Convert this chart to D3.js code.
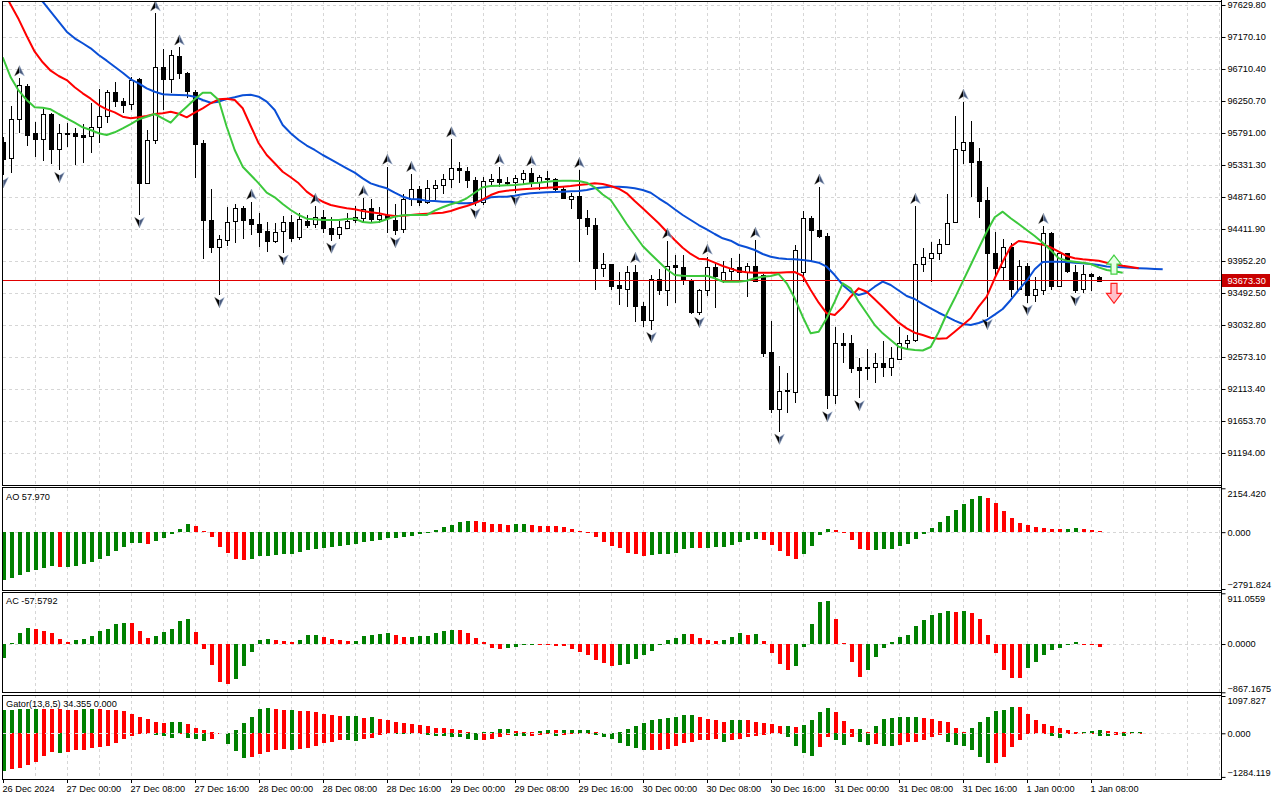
<!DOCTYPE html>
<html><head><meta charset="utf-8">
<script src="https://cdn.jsdelivr.net/npm/d3@7"></script>
<style>
html,body{margin:0;padding:0;background:#fff;overflow:hidden;}
svg{display:block;}
</style></head><body>
<script>
// ---------------- DATA (BTCUSD H1, 26 Dec 2024 16:00 .. 1 Jan 2025 09:00) ----------------
const dateLabels = ["26 Dec 2024","27 Dec 00:00","27 Dec 08:00","27 Dec 16:00","28 Dec 00:00","28 Dec 08:00","28 Dec 16:00","29 Dec 00:00","29 Dec 08:00","29 Dec 16:00","30 Dec 00:00","30 Dec 08:00","30 Dec 16:00","31 Dec 00:00","31 Dec 08:00","31 Dec 16:00","1 Jan 00:00","1 Jan 08:00"];
const dateBars = [0,8,16,24,32,40,48,56,64,72,80,88,96,104,112,120,128,136];
const priceTicks = [97629.80,97170.10,96710.40,96250.70,95791.00,95331.30,94871.60,94411.90,93952.20,93492.50,93032.80,92573.10,92113.40,91653.70,91194.00];
const priceRange = [90734.3, 97701.6];
const aoRange = [-2791.824, 2154.420];
const acRange = [-867.1675, 911.0559];
const gatorRange = [-1284.119, 1097.827];
const currentPrice = 93673.30;

const openP = [95666,95428,95988,96466,95787,95701,96064,95557,95791,95787,95762,95758,95881,96025,96376,96251,96203,96567,95077,95680,96735,96562,96897,96649,96384,95643,94541,94149,94264,94517,94709,94551,94484,94387,94244,94373,94517,94293,94531,94484,94580,94422,94336,94436,94531,94580,94709,94551,94613,94541,94408,94839,94982,94790,94997,95040,95126,95284,95249,95116,94804,95106,95126,95087,95087,95140,95221,95087,95140,95126,94982,94847,94886,94566,94469,93847,93905,93608,93546,93790,93306,93095,93689,93536,93895,93862,93679,93224,93536,93862,93679,93799,93862,93799,93885,93751,92649,91836,92095,92075,93784,94566,94398,94311,92027,92779,92770,92434,92425,92425,92483,92425,92555,92779,92817,93909,94005,94071,94196,94502,95557,95666,95393,94829,94071,93862,94149,93546,93880,93464,93546,94359,93593,94063,93799,93546,93765,93727];
const highP = [95734,96179,96577,96490,95953,96131,96083,95920,95939,95859,95920,96218,96419,96409,96528,96290,96600,96581,95834,97511,96993,96990,97020,96667,96409,95690,94982,94326,94732,94771,94742,94804,94638,94517,94502,94599,94613,94638,94613,94742,94685,94580,94531,94646,94742,94853,94839,94724,95307,94771,94915,95202,95030,95116,95116,95202,95700,95379,95307,95163,95163,95202,95307,95163,95188,95260,95284,95188,95249,95140,95020,94925,95260,94685,94566,94063,93909,93799,93880,93895,93368,93751,93833,94244,94038,94038,93690,93545,94014,93919,93956,93991,94053,93919,94254,93760,93095,92444,92348,94182,94670,94599,95020,94359,93008,92922,92889,92555,92684,92635,92807,92721,93000,92889,94742,94135,94230,94264,94915,96035,96241,95968,95571,95011,94373,94264,94207,93967,93928,93727,94455,94373,94071,94071,93895,93895,93775,93737];
const lowP = [95188,95221,95787,95604,95442,95393,95346,95260,95594,95331,95356,95508,95652,95939,96169,96083,96121,94613,95073,95633,96121,96361,96562,96290,95140,93977,94063,93464,94168,94207,94264,94326,94149,94086,94215,94074,94230,94254,94422,94422,94350,94244,94264,94422,94502,94494,94502,94494,94350,94326,94350,94742,94742,94771,94829,94915,94997,95068,94997,94742,94757,95030,95011,95030,94929,95058,95011,94972,95011,94962,94843,94695,93942,94326,93536,93727,93536,93320,93296,93080,93008,92961,93464,93306,93353,93608,93191,93177,93449,93273,93640,93669,93679,93431,93660,92569,91764,91500,91764,91917,93655,93942,94278,91822,91898,92483,92348,91980,92243,92204,92290,92300,92540,92684,92789,93799,93655,93967,94182,94498,95346,94876,94566,93148,93751,93679,93431,93536,93353,93360,93464,93536,93574,93776,93488,93497,93526,93669];
const closeP = [95428,95988,96481,95762,95701,96064,95557,95787,95781,95738,95738,95881,96035,96376,96241,96193,96552,95068,95690,96735,96562,96912,96649,96384,95643,94541,94149,94264,94517,94709,94541,94484,94373,94244,94373,94508,94293,94551,94479,94580,94416,94336,94436,94531,94580,94704,94551,94613,94566,94398,94839,94982,94790,94997,95040,95126,95284,95249,95116,94804,95106,95135,95087,95083,95140,95221,95077,95155,95126,94982,94847,94886,94566,94455,93847,93909,93593,93560,93790,93296,93105,93689,93536,93885,93862,93679,93224,93536,93862,93727,93799,93847,93784,93885,93669,92635,91836,92089,92085,94110,94566,94387,94311,92027,92779,92746,92411,92396,92405,92483,92425,92555,92779,92817,93909,94005,94071,94196,94502,95557,95666,95379,94818,94071,93862,94149,93546,93880,93464,93546,94359,93593,94063,93799,93546,93765,93737,93673.3];

// Alligator (jaw shifted 8, teeth shifted 5, lips shifted 3)
const jaw = [98276,98147,98018,97903,97788,97677,97533,97390,97246,97151,97080,97008,96911,96830,96743,96657,96562,96505,96433,96384,96347,96341,96337,96333,96313,96265,96226,96241,96279,96304,96333,96341,96313,96241,96121,95906,95787,95690,95611,95547,95475,95413,95346,95284,95221,95140,95068,95030,94997,94933,94876,94843,94839,94818,94814,94804,94804,94781,94781,94790,94829,94867,94876,94876,94890,94910,94925,94933,94939,94943,94948,94953,94958,94972,94997,95008,95020,95020,95011,94997,94972,94933,94853,94781,94695,94613,94541,94469,94407,94340,94278,94244,94182,94149,94110,94053,94014,93991,93981,93976,93967,93952,93928,93870,93751,93608,93511,93464,93497,93583,93655,93608,93528,93449,93406,93335,93273,93209,93152,93095,93047,93033,93062,93105,93181,93263,93392,93536,93669,93833,93938,93942,93942,93938,93928,93919,93909,93894,93873,93866,93862,93856,93849,93843,93837,93833];
const teeth = [97845,97634,97424,97184,96959,96807,96686,96610,96552,96448,96361,96284,96193,96131,96088,96025,96002,96016,96035,96064,96074,96097,96068,96016,96083,96146,96218,96275,96284,96265,96146,95892,95643,95475,95356,95235,95155,95068,94948,94867,94804,94757,94732,94709,94695,94670,94652,94638,94613,94599,94603,94613,94623,94632,94638,94646,94670,94709,94742,94781,94839,94900,94943,94962,94972,94982,94991,94997,95005,95011,95020,95030,95044,95054,95068,95058,95030,94991,94925,94814,94709,94603,94494,94373,94254,94143,94053,93985,93976,93928,93880,93842,93804,93790,93784,93784,93784,93784,93790,93794,93737,93536,93353,93201,93177,93287,93439,93560,93511,93402,93291,93177,93066,92985,92922,92889,92850,92836,92842,92937,93033,93129,93296,93439,93704,93942,94158,94240,94225,94207,94187,94149,94086,94024,93991,93976,93967,93957,93928,93909,93885,93866,93847];
const lips = [96878,96591,96399,96265,96160,96154,96131,96064,96002,95939,95873,95834,95787,95762,95801,95858,95920,95988,96025,96064,96002,95939,96064,96169,96275,96370,96370,96265,95881,95547,95307,95188,95068,94933,94867,94771,94685,94613,94560,94551,94541,94541,94541,94556,94560,94512,94502,94512,94551,94589,94609,94613,94613,94613,94675,94724,94767,94800,94853,94933,95011,95030,95034,95040,95044,95054,95068,95077,95092,95101,95106,95106,95101,95077,95011,94907,94829,94660,94484,94326,94168,94053,93942,93833,93751,93741,93737,93737,93741,93704,93655,93655,93655,93669,93704,93727,93737,93765,93632,93416,93152,92913,92937,93129,93368,93632,93560,93368,93201,93033,92913,92817,92721,92688,92674,92666,92717,92932,93191,93416,93655,93895,94135,94373,94580,94661,94566,94484,94397,94311,94215,94110,93991,93957,93942,93928,93909,93861,93823,93804,93784];

const fractalUp = [2,19,22,31,39,45,48,51,56,62,66,72,79,83,88,94,102,114,120,130];
const fractalDown = [0,7,17,27,35,41,49,59,64,81,87,97,103,107,123,128,134];
const signalBars = [139, 139];
const signalPrices = [94038, 93632];
const signalDirs = ["up", "down"];

const ao = [-2347,-2234,-2101,-1939,-1856,-1773,-1660,-1694,-1690,-1645,-1561,-1448,-1316,-1169,-908,-712,-545,-540,-560,-417,-270,-103,142,403,304,59,-250,-712,-1036,-1316,-1365,-1316,-1169,-1160,-1119,-1085,-1070,-972,-874,-825,-761,-712,-680,-640,-560,-470,-430,-380,-300,-270,-221,-172,-74,10,108,270,353,516,565,550,501,388,380,370,380,390,360,320,310,290,255,172,74,10,-221,-466,-663,-793,-1006,-1056,-1154,-1120,-1085,-1056,-1006,-840,-790,-800,-761,-750,-712,-628,-466,-398,-334,-400,-628,-923,-1169,-1316,-1070,-678,-137,157,108,-54,-383,-825,-874,-860,-825,-820,-678,-579,-334,-74,221,516,795,1090,1385,1630,1777,1694,1449,1041,712,466,353,270,221,172,142,150,206,172,123,57.970];
const ac = [-257,12,192,293,270,234,198,90,36,78,90,150,234,270,359,377,370,234,114,150,216,270,413,449,216,-84,-377,-677,-719,-629,-389,-138,72,90,72,54,36,72,162,165,132,90,72,54,60,144,162,180,192,162,126,130,144,150,204,240,252,248,204,108,36,-72,-84,-78,-48,-6,2,-2,-18,-30,-42,-84,-138,-198,-288,-335,-395,-377,-359,-263,-198,-120,5,72,108,180,175,108,72,54,72,126,204,162,180,54,-156,-359,-467,-395,-48,359,749,773,449,12,-318,-593,-467,-228,-66,30,126,162,323,431,521,563,593,575,593,557,449,162,-156,-467,-605,-610,-425,-318,-198,-108,-78,-18,30,-10,-25,-57.5792];
const gatorUp = [690,700,705,710,712,708,705,702,700,698,703,706,704,700,687,657,579,491,412,333,294,320,345,265,157,98,39,15,20,98,294,491,726,755,726,677,690,660,657,640,579,540,500,510,520,461,470,420,383,343,294,265,245,206,167,147,118,88,49,20,25,49,118,125,70,49,45,55,88,85,90,92,95,100,49,20,5,49,118,206,314,383,422,461,491,530,535,491,432,392,343,383,390,383,343,294,275,206,215,177,255,392,618,745,618,353,128,135,29,226,422,441,471,475,480,441,422,373,324,157,29,147,324,471,666,680,765,760,569,392,275,206,157,98,29,35,59,98,59,29,25,30,35];
const gatorDown = [-1109,-1059,-1010,-942,-845,-668,-550,-589,-550,-491,-485,-432,-412,-373,-294,-157,-78,-29,-10,-59,-78,-137,-29,-137,-157,-216,-157,-29,-304,-520,-716,-710,-618,-550,-491,-471,-491,-471,-432,-373,-275,-255,-196,-200,-216,-157,-137,-59,-10,-15,-20,-25,-20,-49,-78,-80,-108,-115,-177,-206,-196,-157,-98,-49,-78,-80,-75,-49,-29,-78,-49,-29,-20,-10,-49,-108,-177,-275,-373,-441,-491,-485,-480,-475,-373,-275,-245,-206,-190,-180,-245,-206,-157,-108,-78,-49,-20,-10,-98,-363,-588,-657,-412,-100,-186,-333,-98,-245,-333,-314,-363,-370,-333,-265,-245,-186,-98,-50,-265,-333,-363,-481,-687,-883,-870,-706,-412,-186,-20,-10,-5,-69,-137,-20,-10,-5,-3,-69,-75,-49,-69,-10,-5];

// ---------------- DRAWING ----------------
const FONT = '"Liberation Sans", Arial, sans-serif';
const FS = 9.2;
const GREEN = "#008000", RED = "#ff0000";
const AXX = 1221.5;            // right axis line
const LEFT = 2.5;
const panes = {main:[1,485], ao:[487.5,590], ac:[592.5,692.5], gator:[695,779]};

const svg = d3.select("body").append("svg").attr("width",1280).attr("height",800)
  .style("font-family",FONT);
svg.append("rect").attr("width",1280).attr("height",800).attr("fill","#fff");

const x = d3.scaleLinear().domain([0,152]).range([2.7,1218.7]);
const cx = i => Math.round(x(i));
const yP = d3.scaleLinear().domain(priceRange).range([485,0]);
const yAO = d3.scaleLinear().domain(aoRange).range([589,488.3]);
const yAC = d3.scaleLinear().domain(acRange).range([692.3,593.3]);
const yG = d3.scaleLinear().domain(gatorRange).range([776.9,696]);

const defs = svg.append("defs");
Object.entries(panes).forEach(([k,[t,b]])=>{
  defs.append("clipPath").attr("id","clip-"+k).append("rect")
    .attr("x",LEFT).attr("y",t).attr("width",AXX-LEFT).attr("height",b-t);
});

// grid
const grid = svg.append("g").attr("stroke","#d6d6d6").attr("stroke-dasharray","3,3").attr("shape-rendering","crispEdges");
const gridBars = d3.range(4,153,4);
Object.values(panes).forEach(([t,b])=>{
  grid.append("g").selectAll("line").data(gridBars).join("line")
    .attr("x1",i=>cx(i)+0.5).attr("x2",i=>cx(i)+0.5).attr("y1",t).attr("y2",b);
});
grid.append("g").selectAll("line").data(priceTicks).join("line")
  .attr("x1",LEFT).attr("x2",AXX).attr("y1",d=>Math.round(yP(d))+0.5).attr("y2",d=>Math.round(yP(d))+0.5);
[yAO,yAC].forEach(s=>{
  grid.append("line").attr("x1",LEFT).attr("x2",AXX).attr("y1",Math.round(s(0))+0.5).attr("y2",Math.round(s(0))+0.5);
});

// ---------- main pane ----------
const gm = svg.append("g").attr("clip-path","url(#clip-main)");
const idx = d3.range(closeP.length);
gm.append("g").attr("stroke","#000").attr("shape-rendering","crispEdges")
  .selectAll("line").data(idx).join("line")
  .attr("x1",i=>cx(i)+0.5).attr("x2",i=>cx(i)+0.5)
  .attr("y1",i=>yP(highP[i])).attr("y2",i=>yP(lowP[i]));
gm.append("g").attr("shape-rendering","crispEdges")
  .selectAll("rect").data(idx).join("rect")
  .attr("x",i=>cx(i)-1.5).attr("width",4)
  .attr("y",i=>Math.round(yP(Math.max(openP[i],closeP[i])))+0.5)
  .attr("height",i=>Math.max(1,Math.round(Math.abs(yP(openP[i])-yP(closeP[i])))))
  .attr("fill",i=>closeP[i]>=openP[i]?"#fff":"#000")
  .attr("stroke","#000");

gm.append("line").attr("x1",LEFT).attr("x2",AXX)
  .attr("y1",Math.round(yP(currentPrice))+0.5).attr("y2",Math.round(yP(currentPrice))+0.5)
  .attr("stroke","#e00000").attr("shape-rendering","crispEdges");

const lineGen = arr => d3.line().x((d,i)=>x(i)).y(d=>yP(d))(arr);
[[jaw,"#0a4fd6"],[teeth,"#ff0000"],[lips,"#3cc83c"]].forEach(([arr,col])=>{
  gm.append("path").attr("d",lineGen(arr)).attr("fill","none").attr("stroke",col).attr("stroke-width",2).attr("stroke-linejoin","round");
});

// fractals (two-tone arrowheads)
function fractal(g, X, Y, dir){
  const s = dir==="up" ? 1 : -1;
  const t = g.append("g").attr("transform",`translate(${X},${Y}) scale(1,${s})`);
  t.append("path").attr("d","M0,-5 L-4.8,5 L0,2 Z").attr("fill","#000").attr("stroke","#333").attr("stroke-width",0.4);
  t.append("path").attr("d","M0,-5 L4.8,5 L0,2 Z").attr("fill","#4a5b7e").attr("stroke","#9fb0cc").attr("stroke-width",0.5);
}
const gf = gm.append("g");
fractalUp.forEach(i=>fractal(gf, cx(i)+0.5, yP(highP[i])-7.5, "up"));
fractalDown.forEach(i=>fractal(gf, cx(i)+0.5, yP(lowP[i])+7.5, "down"));

// signal arrows
signalBars.forEach((b,k)=>{
  const X = cx(b)-1, Y = yP(signalPrices[k]);
  if (signalDirs[k]==="up") {
    gm.append("path").attr("d",`M${X},${Y} L${X+7},${Y+9} L${X+3},${Y+9} L${X+3},${Y+19} L${X-3},${Y+19} L${X-3},${Y+9} L${X-7},${Y+9} Z`)
      .attr("fill","#e6ffe6").attr("stroke","#44d044").attr("stroke-width",1.2);
  } else {
    gm.append("path").attr("d",`M${X-3},${Y} L${X+3},${Y} L${X+3},${Y+10} L${X+7.5},${Y+10} L${X},${Y+20} L${X-7.5},${Y+10} L${X-3},${Y+10} Z`)
      .attr("fill","#ffc0c8").attr("stroke","#ff1f1f").attr("stroke-width",1.2);
  }
});

// ---------- histograms ----------
function histo(clipId, data, scale, colorFn){
  const g = svg.append("g").attr("clip-path",`url(#clip-${clipId})`).attr("shape-rendering","crispEdges");
  const z = scale(0);
  g.selectAll("rect").data(data).join("rect")
    .attr("x",(d,i)=>cx(i)-1).attr("width",4)
    .attr("y",d=>Math.min(z,scale(d))).attr("height",d=>Math.max(1,Math.abs(scale(d)-z)))
    .attr("fill",(d,i)=>colorFn(d,i));
  return g;
}
histo("ao", ao, yAO, (d,i)=> (i===0 || d>ao[i-1]) ? GREEN : RED);
histo("ac", ac, yAC, (d,i)=> (i===0 || d>ac[i-1]) ? GREEN : RED);
histo("gator", gatorUp, yG, (d,i)=> (i===0 || d>gatorUp[i-1]) ? GREEN : RED);
histo("gator", gatorDown, yG, (d,i)=> (i===0 || Math.abs(d)>Math.abs(gatorDown[i-1])) ? GREEN : RED);
svg.append("line").attr("x1",LEFT).attr("x2",AXX).attr("y1",Math.round(yG(0))+0.5).attr("y2",Math.round(yG(0))+0.5)
  .attr("stroke","#dedede").attr("stroke-dasharray","3,3").attr("shape-rendering","crispEdges");

// ---------- frames ----------
const frames = svg.append("g").attr("fill","none").attr("stroke","#000").attr("shape-rendering","crispEdges");
Object.values(panes).forEach(([t,b])=>{
  frames.append("rect").attr("x",2).attr("y",t).attr("width",AXX-2).attr("height",b-t);
});

// ---------- axes ----------
function styleAxis(g){
  g.select(".domain").remove();
  g.selectAll("text").attr("font-family",FONT).attr("font-size",FS).attr("fill","#000");
  g.selectAll("line").attr("stroke","#000");
}
const axMain = svg.append("g").attr("transform",`translate(${AXX},0)`)
  .call(d3.axisRight(yP).tickValues(priceTicks).tickFormat(d3.format(".2f")).tickSize(4).tickPadding(2));
styleAxis(axMain);

function indAxis(scale, range, fmt){
  const vals = [range[1], 0, range[0]];
  const g = svg.append("g").attr("transform",`translate(${AXX},0)`)
    .call(d3.axisRight(scale).tickValues(vals).tickFormat(d3.format(fmt)).tickSize(4).tickPadding(2));
  styleAxis(g);
  g.selectAll("text").attr("y",(d)=> d===vals[0] ? 5 : (d===vals[2] ? -4 : 0));
}
indAxis(yAO, aoRange, ".3f");
indAxis(yAC, acRange, ".4f");
indAxis(yG, gatorRange, ".3f");

svg.append("line").attr("x1",AXX).attr("x2",AXX).attr("y1",0).attr("y2",779)
  .attr("stroke","#000").attr("shape-rendering","crispEdges");

const cpY = Math.round(yP(currentPrice));
svg.append("rect").attr("x",AXX+0.5).attr("y",cpY-6).attr("width",48).attr("height",13).attr("fill","#c80000");
svg.append("text").attr("x",AXX+6).attr("y",cpY+0.5).attr("dy","0.35em")
  .attr("font-size",FS).attr("fill","#fff").text(d3.format(".2f")(currentPrice));

const axDate = svg.append("g").attr("transform","translate(0,779)")
  .call(d3.axisBottom(x).tickValues(dateBars).tickFormat((d,i)=>dateLabels[i]).tickSize(4).tickPadding(2));
styleAxis(axDate);
axDate.selectAll(".tick").attr("transform",d=>`translate(${cx(d)+0.5},0)`);
axDate.selectAll("text").attr("text-anchor","start").attr("x",-1);

const titles = [["AO 57.970",500],["AC -57.5792",604],["Gator(13,8,5) 34.355 0.000",707]];
svg.append("g").selectAll("text").data(titles).join("text")
  .attr("x",6).attr("y",d=>d[1]).attr("font-size",FS).attr("fill","#000").text(d=>d[0]);
</script>
</body></html>
